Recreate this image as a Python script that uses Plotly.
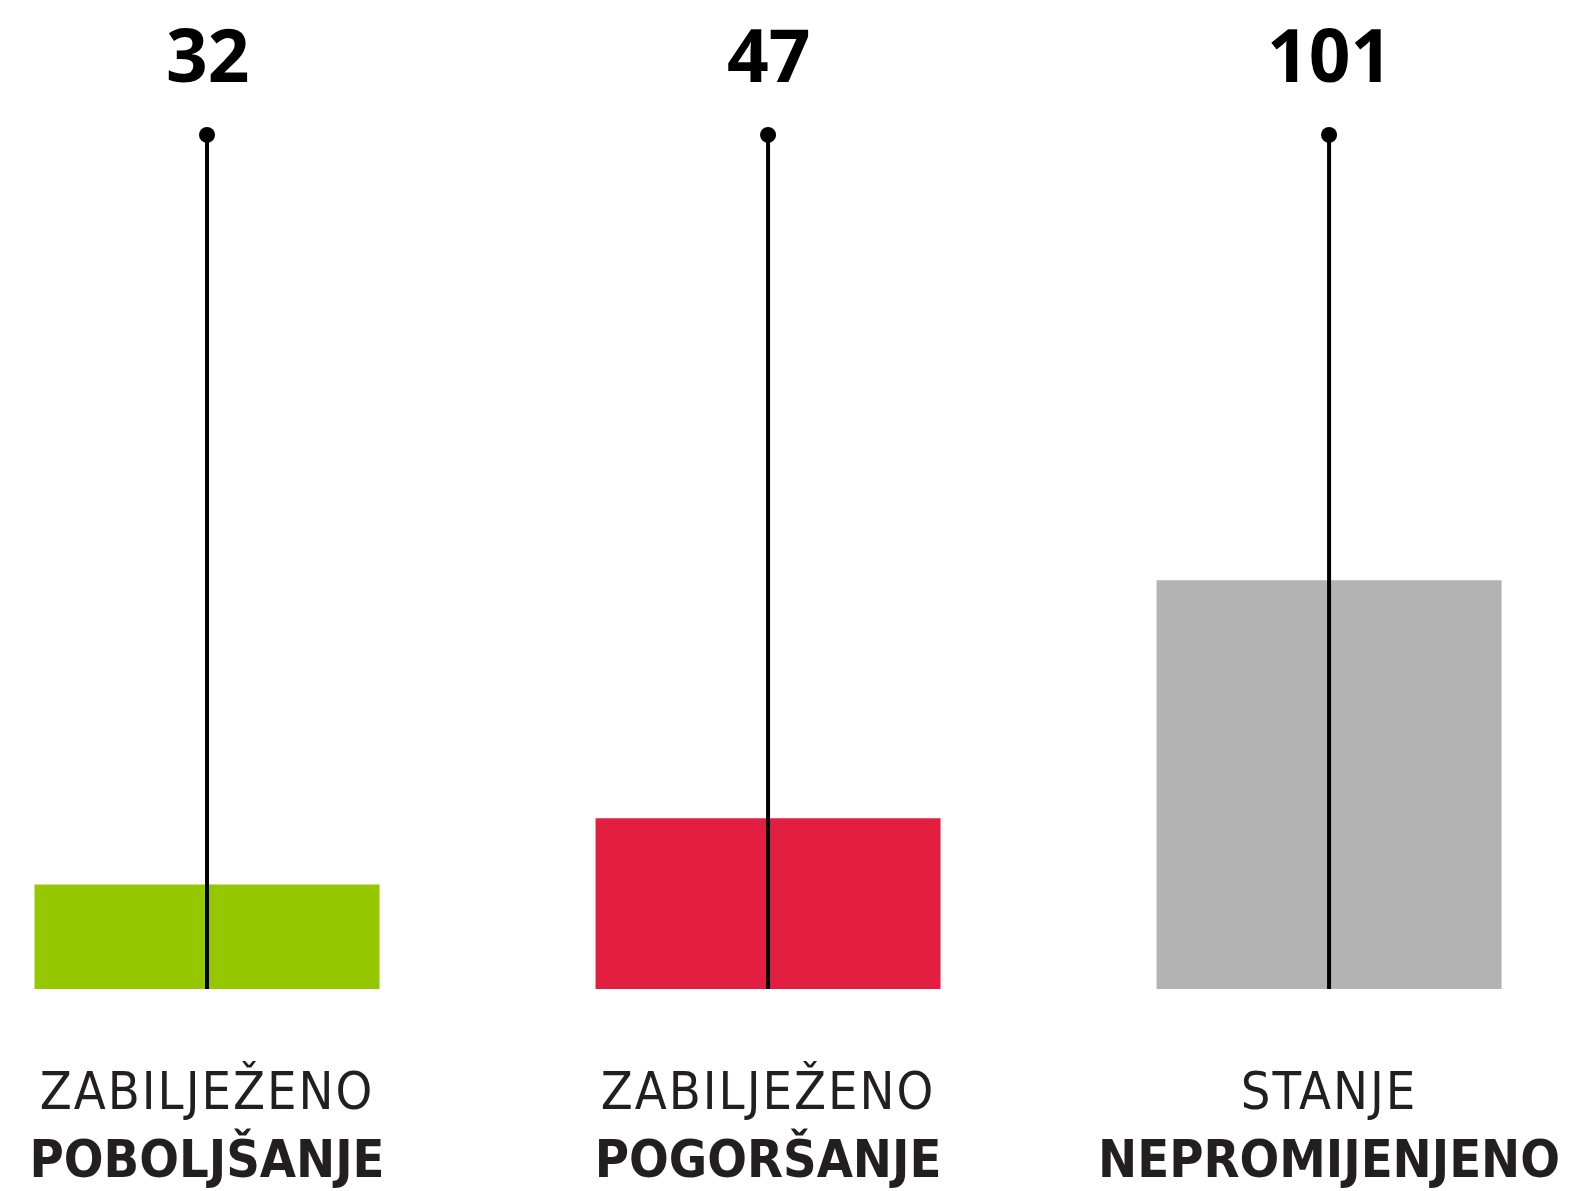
import plotly.graph_objects as go

# ---- data ----
categories = ["poboljsanje", "pogorsanje", "nepromijenjeno"]
values = [32, 47, 101]
label_line1 = ["ZABILJEŽENO", "ZABILJEŽENO", "STANJE"]
label_line2 = ["POBOLJŠANJE", "POGORŠANJE", "NEPROMIJENJENO"]
bar_colors = ["#95C800", "#E31F41", "#B3B3B3"]

# ---- layout constants ----
STEM_TOP = 202          # level of the lollipop dot (axis units)
Y_RANGE = [8.3, 232.6]
X_RANGE = [-0.369, 2.474]
LABEL_FONT = "DejaVu Sans Condensed, DejaVu Sans, sans-serif"

fig = go.Figure()

fig.add_trace(go.Bar(
    x=categories,
    y=values,
    marker=dict(color=bar_colors, line=dict(width=0)),
    hoverinfo="skip",
    showlegend=False,
))

for cat in categories:
    fig.add_trace(go.Scatter(
        x=[cat, cat],
        y=[0, STEM_TOP],
        mode="lines",
        line=dict(color="#000000", width=4),
        hoverinfo="skip",
        showlegend=False,
    ))

fig.add_trace(go.Scatter(
    x=categories,
    y=[STEM_TOP] * len(categories),
    mode="markers",
    marker=dict(size=16, color="#000000", opacity=1, line=dict(width=0)),
    hoverinfo="skip",
    showlegend=False,
))

for cat, v in zip(categories, values):
    fig.add_annotation(
        x=cat, y=STEM_TOP, text=f"<b>{v}</b>",
        showarrow=False, yshift=133, yanchor="top",
        font=dict(family="Open Sans, sans-serif", size=73, color="#000000"),
    )

ticktext = [
    f"<span style='letter-spacing:2px'>{a}</span><br><b>{b}</b>"
    for a, b in zip(label_line1, label_line2)
]

fig.update_layout(
    width=1595, height=1191,
    margin=dict(l=0, r=0, t=0, b=202, pad=0),
    paper_bgcolor="white", plot_bgcolor="white",
    bargap=0.385,
    xaxis=dict(
        type="category",
        range=X_RANGE,
        tickmode="array", tickvals=categories, ticktext=ticktext,
        tickfont=dict(family=LABEL_FONT, size=52, color="#231F20"),
        showgrid=False, zeroline=False, showline=False, ticks="",
        ticklabelstandoff=67,
    ),
    yaxis=dict(range=Y_RANGE, visible=False, showgrid=False, zeroline=False),
)

fig.write_html(
    "out.html",
    config={"displayModeBar": False},
    post_script="document.body.style.margin='0';",
)
